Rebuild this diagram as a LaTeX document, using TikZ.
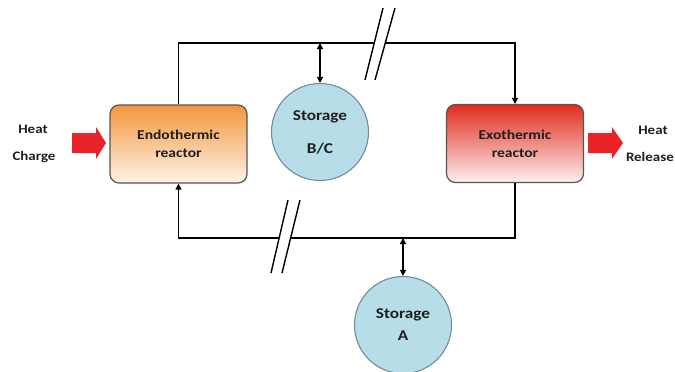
\documentclass[tikz,border=0pt]{standalone}
\usepackage{fontspec}
\setmainfont[FakeStretch=1.15]{Carlito}
\usetikzlibrary{arrows.meta}
\definecolor{endotop}{RGB}{243,150,60}
\definecolor{endobot}{RGB}{254,243,232}
\definecolor{exotop}{RGB}{224,44,30}
\definecolor{exobot}{RGB}{253,240,238}
\definecolor{stfill}{RGB}{183,221,232}
\definecolor{stdraw}{RGB}{110,142,153}
\definecolor{boxdraw}{RGB}{85,85,85}
\definecolor{heatred}{RGB}{232,36,40}
\definecolor{txt}{RGB}{30,30,30}
\tikzset{
  reactor/.style={draw=boxdraw, line width=1.2pt, rounded corners=9pt,
    minimum width=137pt, minimum height=78pt, align=center,
    font=\bfseries\fontsize{13.5}{18}\selectfont, text=txt},
  storage/.style={circle, draw=stdraw, line width=1.1pt, fill=stfill,
    minimum size=97pt, inner sep=0pt, align=center, text=txt},
  pipe/.style={line width=1.2pt, black},
  flow/.style={pipe, -{Triangle[length=6pt,width=6pt]}},
  both/.style={pipe, {Triangle[length=6pt,width=6pt]}-{Triangle[length=6pt,width=6pt]}},
  brk/.style={line width=1.4pt, black},
  heatarrow/.style={fill=heatred},
  side/.style={font=\bfseries\fontsize{13}{16}\selectfont, text=txt}
}
\begin{document}
\begin{tikzpicture}[x=1pt,y=-1pt]
\useasboundingbox (0,0) rectangle (675,372);
% reactors
\node[reactor, top color=endotop, bottom color=endobot] (endo) at (178.5,144) {Endothermic\\reactor};
\node[reactor, top color=exotop, bottom color=exobot] (exo) at (515,143.5) {Exothermic\\reactor};
% storages
\node[storage, font=\bfseries\fontsize{15}{33}\selectfont] (bc) at (320,132) {Storage\\B/C};
\node[storage, font=\bfseries\fontsize{15}{22}\selectfont] (sa) at (403,325) {Storage\\A};
% corner and break coordinates
\coordinate (tl) at (178.5,43);
\coordinate (tr) at (515,43);
\coordinate (tb1) at (374.3,43);
\coordinate (tb2) at (385.3,43);
\coordinate (tbc) at (320,43);
\coordinate (bl) at (178.5,238);
\coordinate (br) at (515,238);
\coordinate (bb1) at (279.2,238);
\coordinate (bb2) at (290.6,238);
\coordinate (ba) at (403,238);
% top loop
\draw[pipe] (endo.north) -- (tl) -- (tb1);
\draw[flow] (tb2) -- (tr) -- (exo.north);
% bottom loop
\draw[pipe] (exo.south) -- (br) -- (bb2);
\draw[flow] (bb1) -- (bl) -- (endo.south);
% storage connections
\draw[both] (tbc) -- (bc.north);
\draw[both] (ba) -- (sa.north);
% break marks
\draw[brk] (365,80) -- (383,8);
\draw[brk] (375,80) -- (395,8);
\draw[brk] (271,273) -- (288,200);
\draw[brk] (282,273) -- (300,200);
% heat arrows
\fill[heatarrow] (72,133) -- (96,133) -- (96,127) -- (106,143) -- (96,159) -- (96,153) -- (72,153) -- cycle;
\fill[heatarrow] (588,133) -- (612,133) -- (612,127) -- (623,143) -- (612,159) -- (612,153) -- (588,153) -- cycle;
% side labels
\node[side] (heatl) at (33,129) {Heat};
\node[side] (charge) at (34,157) {Charge};
\node[side] (heatr) at (653,130) {Heat};
\node[side, anchor=east, inner xsep=1pt] (release) at (675,157) {Release};
\end{tikzpicture}
\end{document}
